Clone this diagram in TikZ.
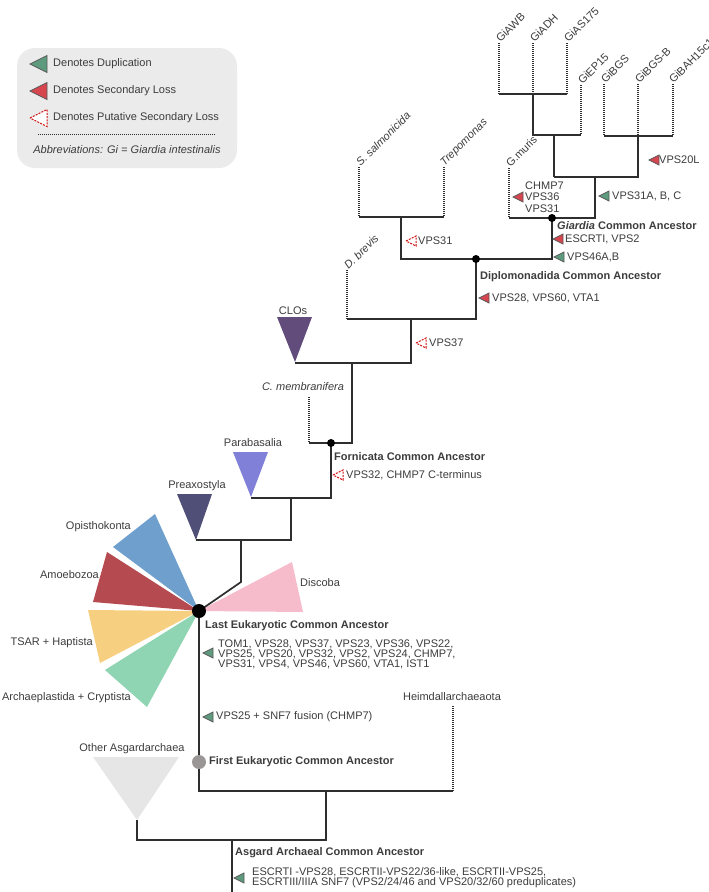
\documentclass[tikz,border=0pt]{standalone}
\usepackage{fontspec}
\setmainfont{Liberation Sans}
\usetikzlibrary{calc}
\definecolor{txt}{HTML}{3C3C3C}
\definecolor{brc}{HTML}{2E2E2E}
\definecolor{dupc}{HTML}{5E9A7D}
\definecolor{lossc}{HTML}{D7464F}
\definecolor{mkgray}{HTML}{5A5A5A}
\definecolor{plc}{HTML}{D01010}
\definecolor{legbg}{HTML}{EBEBEB}
\definecolor{opic}{HTML}{6F9FCC}
\definecolor{amoc}{HTML}{B54A50}
\definecolor{tsarc}{HTML}{F7CF80}
\definecolor{archc}{HTML}{8FD4B3}
\definecolor{disc}{HTML}{F6BCCB}
\definecolor{cloc}{HTML}{614C7C}
\definecolor{parc}{HTML}{8080D8}
\definecolor{prec}{HTML}{4F4F78}
\definecolor{oac}{HTML}{E6E6E6}
\definecolor{fecac}{HTML}{9A9696}
\begin{document}
\begin{tikzpicture}[x=1pt,y=-1pt,
  font=\fontsize{11}{12}\selectfont, text=txt,
  br/.style={line width=1.7pt, draw=brc},
  dt/.style={line width=1.2pt, draw=brc, dash pattern=on 1pt off 1pt},
  lbl/.style={inner sep=0pt, anchor=west},
  bld/.style={inner sep=0pt, anchor=west, font=\fontsize{11}{12}\selectfont\bfseries},
  ctr/.style={inner sep=0pt},
  tip/.style={inner sep=1pt, anchor=west, rotate=45},
  dupm/.pic={\filldraw[fill=dupc, draw=mkgray, line width=0.7pt] (0,0) -- (10,-5) -- (10,5) -- cycle;},
  lossm/.pic={\filldraw[fill=lossc, draw=mkgray, line width=0.7pt] (0,0) -- (10,-5) -- (10,5) -- cycle;},
  plossm/.pic={\filldraw[fill=white, draw=plc, line width=1pt, dash pattern=on 2pt off 1.2pt] (0,0) -- (10,-5) -- (10,5) -- cycle;}
]
\useasboundingbox (0,0) rectangle (709,892);

% ---------- legend ----------
\fill[legbg, rounded corners=18pt] (17,48) rectangle (237,168);
\pic[scale=1.7] at (30,64) {dupm};
\pic[scale=1.7] at (30,91) {lossm};
\pic[scale=1.7] at (30,118) {plossm};
\node[lbl] (lg1) at (53,64) {Denotes Duplication};
\node[lbl] (lg2) at (53,91) {Denotes Secondary Loss};
\node[lbl] (lg3) at (53,118) {Denotes Putative Secondary Loss};
\draw[line width=1pt, draw=brc, dash pattern=on 1pt off 1pt] (38,134) -- (216,134);
\node[ctr] (lg4) at (127,150) {\itshape Abbreviations: Gi = Giardia intestinalis};

% ---------- coordinates ----------
\coordinate (tAWB) at (499,43);
\coordinate (tADH) at (533,43);
\coordinate (tAS) at (567,43);
\coordinate (n1) at (533,94);
\coordinate (tEP) at (581,85);
\coordinate (n2) at (554,135);
\coordinate (tBGS) at (604,84);
\coordinate (tBGSB) at (638,84);
\coordinate (tBAH) at (673,84);
\coordinate (n3) at (638,136);
\coordinate (n4) at (595,177);
\coordinate (tGm) at (509,168);
\coordinate (gca) at (552,218);
\coordinate (tSs) at (359,167);
\coordinate (tTr) at (444,167);
\coordinate (n5) at (401,217);
\coordinate (dca) at (476,259);
\coordinate (tDb) at (347,270);
\coordinate (n6) at (411,319);
\coordinate (cloA) at (295,362);
\coordinate (n7) at (352,363);
\coordinate (tCm) at (309,397);
\coordinate (fca) at (331,443);
\coordinate (parA) at (251,497);
\coordinate (n8) at (291,498);
\coordinate (preA) at (196,540);
\coordinate (n9) at (241,540);
\coordinate (bend) at (241,582);
\coordinate (leca) at (199,611);
\coordinate (feca) at (199,762);
\coordinate (tHe) at (453,706);
\coordinate (n10) at (326,791);
\coordinate (oaA) at (137,820);
\coordinate (aaca) at (232,840);
\coordinate (root) at (232,892);

% ---------- wedges and collapsed clades ----------
\fill[opic] (leca) -- (113,547) -- (155,514) -- cycle;
\fill[amoc] (leca) -- (107,552) -- (93,602) -- cycle;
\fill[tsarc] (leca) -- (88,610) -- (100,663) -- cycle;
\fill[archc] (leca) -- (105,670) -- (147,707) -- cycle;
\fill[disc] (leca) -- (292,562) -- (303,612) -- cycle;
\fill[cloc] (cloA) -- (277,317) -- (312,317) -- cycle;
\fill[parc] (parA) -- (233,452) -- (268,452) -- cycle;
\fill[prec] (preA) -- (177,494) -- (212,494) -- cycle;
\fill[oac] (oaA) -- (93,757) -- (179,757) -- cycle;

% ---------- branches ----------
\draw[dt] (tAWB) -- (tAWB |- n1);
\draw[dt] (tADH) -- (n1);
\draw[dt] (tAS) -- (tAS |- n1);
\draw[br] (tAWB |- n1) -- (tAS |- n1);
\draw[br] (n1) -- (n1 |- n2) -- (tEP |- n2);
\draw[dt] (tEP) -- (tEP |- n2);
\draw[br] (n2) -- (n2 |- n4);
\draw[dt] (tBGS) -- (tBGS |- n3);
\draw[dt] (tBGSB) -- (n3);
\draw[dt] (tBAH) -- (tBAH |- n3);
\draw[br] (tBGS |- n3) -- (tBAH |- n3);
\draw[br] (n3) -- (n3 |- n4) -- (n2 |- n4);
\draw[br] (n4) -- (n4 |- gca) -- (tGm |- gca);
\draw[dt] (tGm) -- (tGm |- gca);
\draw[br] (gca) -- (gca |- dca) -- (n5 |- dca) -- (n5);
\draw[br] (tSs |- n5) -- (tTr |- n5);
\draw[dt] (tSs) -- (tSs |- n5);
\draw[dt] (tTr) -- (tTr |- n5);
\draw[br] (dca) -- (dca |- n6) -- (tDb |- n6);
\draw[dt] (tDb) -- (tDb |- n6);
\draw[br] (n6) -- (n6 |- n7) -- (cloA |- n7);
\draw[br] (n7) -- (n7 |- fca) -- (tCm |- fca);
\draw[dt] (tCm) -- (tCm |- fca);
\draw[br] (fca) -- (fca |- n8) -- (parA |- n8);
\draw[br] (n8) -- (n8 |- n9) -- (preA |- n9);
\draw[br] (n9) -- (bend) -- (leca);
\draw[br] (leca) -- (feca) -- (feca |- n10) -- (tHe |- n10);
\draw[dt] (tHe) -- (tHe |- n10);
\draw[br] (n10) -- (n10 |- aaca) -- (oaA |- aaca) -- (oaA);
\draw[br] (aaca) -- (root);

% ---------- ancestor dots ----------
\fill[black] (gca) circle[radius=4pt];
\fill[black] (dca) circle[radius=4pt];
\fill[black] (fca) circle[radius=4pt];
\fill[black] (leca) circle[radius=7pt];
\fill[fecac] (feca) circle[radius=7pt];

% ---------- tip labels ----------
\node[tip] (lAWB) at ($(tAWB)+(-2,-2)$) {GiAWB};
\node[tip] (lADH) at ($(tADH)+(-2,-2)$) {GiADH};
\node[tip] (lAS) at ($(tAS)+(-2,-2)$) {GiAS175};
\node[tip] (lEP) at ($(tEP)+(-2,-2)$) {GiEP15};
\node[tip] (lBGS) at ($(tBGS)+(-2,-2)$) {GiBGS};
\node[tip] (lBGSB) at ($(tBGSB)+(-2,-2)$) {GiBGS-B};
\node[tip] (lBAH) at ($(tBAH)+(-3,-2)$) {GiBAH15c1};
\node[tip] (lGm) at ($(tGm)+(-2,-2)$) {G.muris};
\node[tip] (lSs) at ($(tSs)+(-2,-2)$) {\itshape S. salmonicida};
\node[tip] (lTr) at ($(tTr)+(-2,-2)$) {\itshape Trepomonas};
\node[tip] (lDb) at ($(tDb)+(-2,-2)$) {\itshape D. brevis};
\node[ctr] (lCm) at (303,387) {\itshape C. membranifera};
\node[ctr] (lClo) at (293,311) {CLOs};
\node[ctr] (lPar) at (253,443) {Parabasalia};
\node[ctr] (lPre) at (197,486) {Preaxostyla};
\node[inner sep=0pt, anchor=east] (lOpi) at (131,527) {Opisthokonta};
\node[inner sep=0pt, anchor=east] (lAmo) at (99,575) {Amoebozoa};
\node[inner sep=0pt, anchor=east] (lTsar) at (93,643) {TSAR + Haptista};
\node[inner sep=0pt, anchor=east] (lArch) at (131,698) {Archaeplastida + Cryptista};
\node[lbl] (lDis) at (300,583) {Discoba};
\node[ctr] (lHe) at (452,697) {Heimdallarchaeaota};
\node[ctr] (lOa) at (132,749) {Other Asgardarchaea};

% ---------- ancestor labels ----------
\node[bld] (tGca) at (557,226) {\itshape Giardia\upshape{} Common Ancestor};
\node[bld] (tDca) at (480,277) {Diplomonadida Common Ancestor};
\node[bld] (tFca) at (334,457) {Fornicata Common Ancestor};
\node[bld] (tLeca) at (205,626) {Last Eukaryotic Common Ancestor};
\node[bld] (tFeca) at (209,762) {First Eukaryotic Common Ancestor};
\node[bld] (tAaca) at (235,853) {Asgard Archaeal Common Ancestor};

% ---------- events ----------
\pic at (649,160) {lossm};
\node[lbl] (e1) at (659,160) {VPS20L};
\pic at (599,196) {dupm};
\node[lbl] (e2) at (612,196) {VPS31A, B, C};
\pic at (513,197) {lossm};
\node[lbl, align=left, font=\fontsize{11}{11.5}\selectfont] (e3) at (525,197) {CHMP7\\VPS36\\VPS31};
\pic at (553,239) {lossm};
\node[lbl] (e4) at (565,239) {ESCRTI, VPS2};
\pic at (554,257) {dupm};
\node[lbl] (e5) at (567,257) {VPS46A,B};
\pic at (406,241) {plossm};
\node[lbl] (e6) at (418,241) {VPS31};
\pic at (479,298) {lossm};
\node[lbl] (e7) at (492,298) {VPS28, VPS60, VTA1};
\pic at (416,343) {plossm};
\node[lbl] (e8) at (429,343) {VPS37};
\pic at (333,475) {plossm};
\node[lbl] (e9) at (346,475) {VPS32, CHMP7 C-terminus};
\pic at (203,653) {dupm};
\node[lbl, align=left, font=\fontsize{11}{10}\selectfont] (e10) at (218,654) {TOM1, VPS28, VPS37, VPS23, VPS36, VPS22,\\VPS25, VPS20, VPS32, VPS2, VPS24, CHMP7,\\VPS31, VPS4, VPS46, VPS60, VTA1, IST1};
\pic at (203,717) {dupm};
\node[lbl] (e11) at (216,717) {VPS25 + SNF7 fusion (CHMP7)};
\pic at (234,878) {dupm};
\node[lbl, align=left, font=\fontsize{11}{10}\selectfont] (e12) at (252,878) {ESCRTI -VPS28, ESCRTII-VPS22/36-like, ESCRTII-VPS25,\\ESCRTIII/IIIA SNF7 (VPS2/24/46 and VPS20/32/60 preduplicates)};
\end{tikzpicture}
\end{document}
